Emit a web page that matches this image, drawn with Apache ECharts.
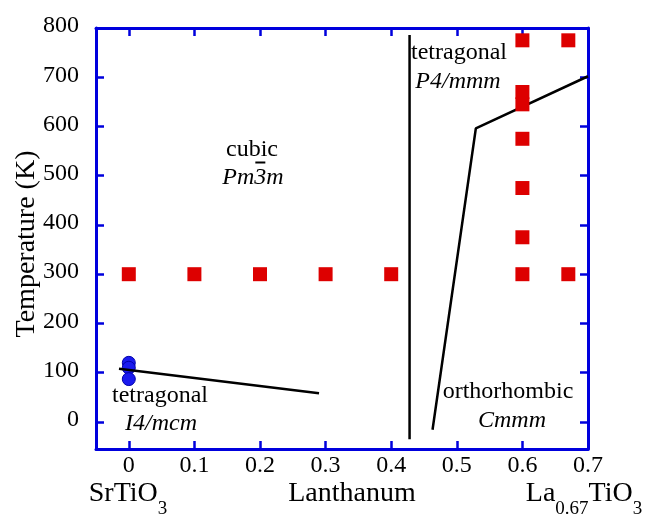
<!DOCTYPE html>
<html>
<head>
<meta charset="utf-8">
<script src="https://cdn.jsdelivr.net/npm/echarts@6/dist/echarts.min.js"></script>
<style>
html,body{margin:0;padding:0;background:#fff;}
#c{width:652px;height:518px;}
</style>
</head>
<body>
<div id="c"></div>
<script>
// ---- data ----
const xTickValues = [0, 0.1, 0.2, 0.3, 0.4, 0.5, 0.6];
const xLabelValues = [0, 0.1, 0.2, 0.3, 0.4, 0.5, 0.6, 0.7];
const yTickValues = [0, 100, 200, 300, 400, 500, 600, 700, 800];

const redX = [0, 0.1, 0.2, 0.3, 0.4, 0.6, 0.6, 0.6, 0.6, 0.6, 0.6, 0.6, 0.67, 0.67];
const redT = [300, 300, 300, 300, 300, 300, 375, 475, 575, 645, 670, 775, 300, 775];

const blueX = [0, 0, 0];
const blueT = [120, 110, 87];

const bound1X = [-0.015, 0.29];
const bound1T = [108, 58];
const bound2X = [0.428, 0.428];
const bound2T = [786, -35];
const bound3X = [0.463, 0.529, 0.70];
const bound3T = [-16, 596, 702];

const FONT = '"Liberation Serif", "Times New Roman", serif';
const AXIS_BLUE = '#0000dd';

function pairs(xs, ys) { return xs.map((x, i) => [x, ys[i]]); }
function fmt(v) { return String(Math.round(v * 10) / 10); }

const chart = echarts.init(document.getElementById('c'), null, {renderer: 'canvas'});

const axisCommon = {
  axisLine: {show: true, onZero: false, lineStyle: {color: AXIS_BLUE, width: 3}},
  splitLine: {show: false}
};

const option = {
  animation: false,
  backgroundColor: '#fff',
  grid: {left: 96, right: 64, top: 28, bottom: 69},
  xAxis: [
    Object.assign({}, axisCommon, {
      type: 'value', min: -0.05, max: 0.7, position: 'bottom',
      axisTick: {show: true, inside: true, length: 8, customValues: xTickValues,
                 lineStyle: {color: AXIS_BLUE, width: 2.5}},
      axisLabel: {show: true, customValues: xLabelValues, formatter: fmt,
                  fontFamily: FONT, fontSize: 24, color: '#000', margin: 5}
    }),
    Object.assign({}, axisCommon, {
      type: 'value', min: -0.05, max: 0.7, position: 'top',
      axisTick: {show: true, inside: true, length: 8, customValues: xTickValues,
                 lineStyle: {color: AXIS_BLUE, width: 2.5}},
      axisLabel: {show: false}
    })
  ],
  yAxis: [
    Object.assign({}, axisCommon, {
      type: 'value', min: -55, max: 800, position: 'left',
      axisTick: {show: true, inside: true, length: 8, customValues: yTickValues,
                 lineStyle: {color: AXIS_BLUE, width: 2.5}},
      axisLabel: {show: true, customValues: yTickValues,
                  fontFamily: FONT, fontSize: 24, color: '#000', margin: 17,
                  verticalAlign: 'bottom', lineHeight: 4}
    }),
    Object.assign({}, axisCommon, {
      type: 'value', min: -55, max: 800, position: 'right',
      axisTick: {show: true, inside: true, length: 8, customValues: yTickValues,
                 lineStyle: {color: AXIS_BLUE, width: 2.5}},
      axisLabel: {show: false}
    })
  ],
  series: [
    {type: 'line', data: pairs(bound1X, bound1T), showSymbol: false, symbol: 'none',
     lineStyle: {color: '#000', width: 2.5}, z: 3},
    {type: 'line', data: pairs(bound2X, bound2T), showSymbol: false, symbol: 'none',
     lineStyle: {color: '#000', width: 2.5}, z: 3},
    {type: 'line', data: pairs(bound3X, bound3T), showSymbol: false, symbol: 'none',
     lineStyle: {color: '#000', width: 2.5}, z: 3},
    {type: 'scatter', data: pairs(redX, redT), symbol: 'rect', symbolSize: 14,
     itemStyle: {color: '#dd0000', opacity: 1}, z: 4},
    {type: 'scatter', data: pairs(blueX, blueT), symbol: 'circle', symbolSize: 13,
     itemStyle: {color: '#1a1aee', borderColor: '#0000aa', borderWidth: 1, opacity: 1}, z: 2}
  ]
};
chart.setOption(option);

// ---- annotations ----
const cv = document.createElement('canvas').getContext('2d');
function measure(txt, font) { cv.font = font; return cv.measureText(txt).width; }

function txt(x, y, text, size, italic, extra) {
  return Object.assign({
    type: 'text', x: x, y: y, z: 10,
    style: {text: text, fill: '#000', fontFamily: FONT, fontSize: size,
            fontStyle: italic ? 'italic' : 'normal', align: 'center', verticalAlign: 'middle'}
  }, extra || {});
}
function ltxt(x, y, text, size) {
  return {
    type: 'text', x: x, y: y, z: 10,
    style: {text: text, fill: '#000', fontFamily: FONT, fontSize: size,
            align: 'left', verticalAlign: 'middle'}
  };
}
// parts: [text, isSub]
function subLabel(cx, parts) {
  const MAIN = 28, SUB = 19;
  const ws = parts.map(p => measure(p[0], (p[1] ? SUB : MAIN) + 'px "Liberation Serif"'));
  const total = ws.reduce((a, b) => a + b, 0);
  let x = cx - total / 2;
  const out = [];
  parts.forEach((p, i) => {
    out.push(ltxt(x, p[1] ? 509 : 494, p[0], p[1] ? SUB : MAIN));
    x += ws[i];
  });
  return out;
}

const itFont = 'italic 24px "Liberation Serif"';
const wPm = measure('Pm', itFont), w3 = measure('3', itFont), wAll = measure('Pm3m', itFont);
const pmCx = 253;
const barX0 = pmCx - wAll / 2 + wPm + 1;

const elements = [
  txt(252, 150, 'cubic', 24, false),
  txt(pmCx, 178, 'Pm3m', 24, true),
  {type: 'line', z: 10, shape: {x1: barX0, y1: 162.5, x2: barX0 + w3 - 2, y2: 162.5},
   style: {stroke: '#000', lineWidth: 2}},
  txt(459, 53, 'tetragonal', 24, false),
  txt(458, 82, 'P4/mmm', 24, true),
  txt(508, 392, 'orthorhombic', 24, false),
  txt(512, 421, 'Cmmm', 24, true),
  txt(160, 396, 'tetragonal', 24, false),
  txt(161, 424, 'I4/mcm', 24, true),
  txt(27, 244, 'Temperature (K)', 28, false, {rotation: Math.PI / 2}),
  txt(352, 494, 'Lanthanum', 28, false)
].concat(
  subLabel(128, [['SrTiO', false], ['3', true]]),
  subLabel(584, [['La', false], ['0.67', true], ['TiO', false], ['3', true]])
);
chart.setOption({graphic: {elements: elements}});
</script>
</body>
</html>
